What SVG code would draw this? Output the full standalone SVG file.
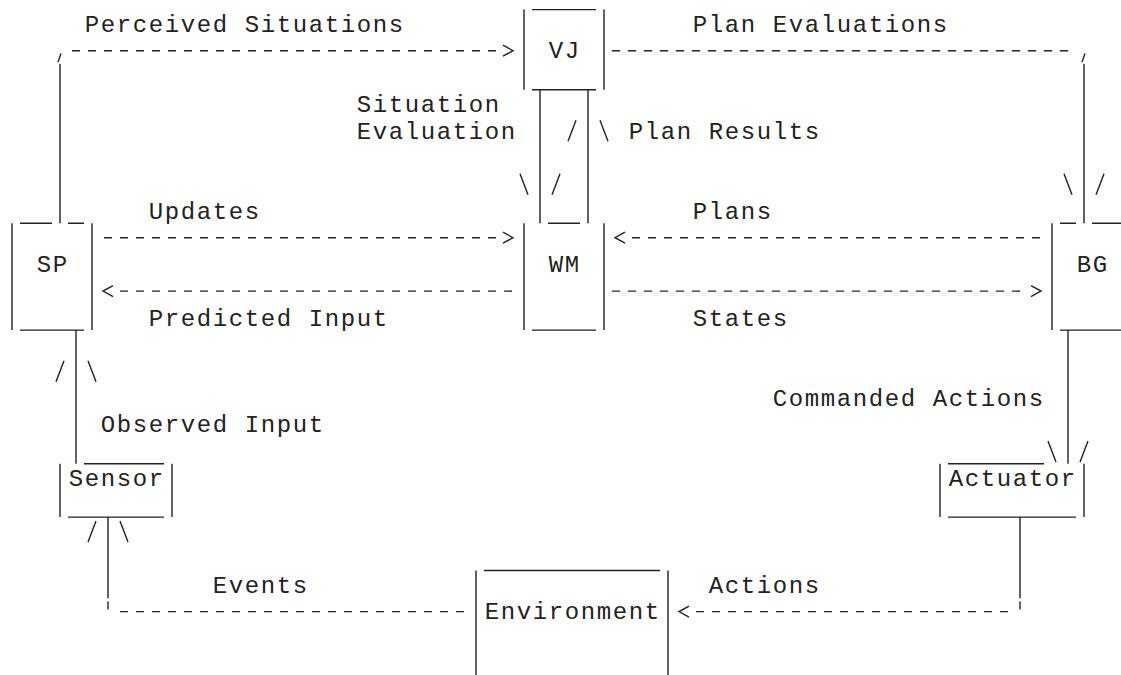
<svg xmlns="http://www.w3.org/2000/svg" width="1121" height="675" viewBox="0 0 1121 675">
<style>
.ln{stroke:#222;stroke-width:1.4;fill:none}
.ds{stroke:#222;stroke-width:1.4;fill:none;stroke-dasharray:8 8}
.t{font-family:"Liberation Mono","DejaVu Sans Mono",monospace;font-size:24px;letter-spacing:1.6px;fill:#222}
</style>
<rect width="1121" height="675" fill="#fff"/>
<g id="connectors">
  <g id="perceived-situations">
    <path class="ln" d="M61,53.5 L58,62 M60,64 V223.3"/>
    <line class="ds" x1="72" y1="50.7" x2="500" y2="50.7"/>
    <polyline class="ln" points="503,45.2 513,50.7 503,56.2"/>
    <text class="t" x="84.8" y="31.7">Perceived Situations</text>
  </g>
  <g id="plan-evaluations">
    <line class="ds" x1="612" y1="50.7" x2="1072" y2="50.7"/>
    <path class="ln" d="M1085,53.5 L1082,62 M1084,64 V223.3 M1064,173.8 L1072,194.8 M1096,194.8 L1104,173.8"/>
    <text class="t" x="692.8" y="31.7">Plan Evaluations</text>
  </g>
  <g id="situation-evaluation">
    <path class="ln" d="M540,89.7 V223.3 M520,173.8 L528,194.8 M552,194.8 L560,173.8"/>
    <text class="t" x="356.8" y="111.83">Situation</text>
    <text class="t" x="356.8" y="138.54">Evaluation</text>
  </g>
  <g id="plan-results">
    <path class="ln" d="M588,89.7 V223.3 M568,141.3 L576,120.3 M600,120.3 L608,141.3"/>
    <text class="t" x="628.8" y="138.54">Plan Results</text>
  </g>
  <g id="updates">
    <line class="ds" x1="104" y1="237.68" x2="500" y2="237.68"/>
    <polyline class="ln" points="503,232.2 513,237.68 503,243.2"/>
    <text class="t" x="148.8" y="218.67">Updates</text>
  </g>
  <g id="predicted-input">
    <polyline class="ln" points="113,285.6 103,291.1 113,296.6"/>
    <line class="ds" x1="120" y1="291.1" x2="516" y2="291.1"/>
    <text class="t" x="148.8" y="325.51">Predicted Input</text>
  </g>
  <g id="plans">
    <polyline class="ln" points="625,232.2 615,237.68 625,243.2"/>
    <line class="ds" x1="632" y1="237.68" x2="1040" y2="237.68"/>
    <text class="t" x="692.8" y="218.67">Plans</text>
  </g>
  <g id="states">
    <line class="ds" x1="612" y1="291.1" x2="1024" y2="291.1"/>
    <polyline class="ln" points="1031,285.6 1041,291.1 1031,296.6"/>
    <text class="t" x="692.8" y="325.51">States</text>
  </g>
  <g id="observed-input">
    <path class="ln" d="M76,330.1 V463.7 M56,381.7 L64,360.7 M88,360.7 L96,381.7"/>
    <text class="t" x="100.8" y="432.35">Observed Input</text>
  </g>
  <g id="commanded-actions">
    <path class="ln" d="M1068,330.1 V463.7 M1048,440.9 L1056,461.9 M1080,461.9 L1088,440.9"/>
    <text class="t" x="772.8" y="405.64">Commanded Actions</text>
  </g>
  <g id="events">
    <path class="ln" d="M108,517.1 V598.3 M108,601.6 V609.6 M88,542 L96,521 M120,521 L128,542"/>
    <line class="ds" x1="120" y1="611.62" x2="464" y2="611.62"/>
    <text class="t" x="212.8" y="592.61">Events</text>
  </g>
  <g id="actions">
    <path class="ln" d="M1020,517.1 V598.3 M1020,601.6 V609.6"/>
    <line class="ds" x1="696" y1="611.62" x2="1008" y2="611.62"/>
    <polyline class="ln" points="689,606.1 679,611.62 689,617.1"/>
    <text class="t" x="708.8" y="592.61">Actions</text>
  </g>
</g>
<g id="node-vj">
  <path class="ln" d="M524,9.6 V89.7 M604,9.6 V89.7 M532,9.6 H596 M532,89.7 H596"/>
  <text class="t" x="548.8" y="58.41">VJ</text>
</g>
<g id="node-wm">
  <path class="ln" d="M524,223.3 V330.1 M604,223.3 V330.1 M548,223.3 H580 M532,330.1 H596"/>
  <text class="t" x="548.8" y="272.09">WM</text>
</g>
<g id="node-sp">
  <path class="ln" d="M12,223.3 V330.1 M92,223.3 V330.1 M20,223.3 H52 M68,223.3 H84 M20,330.1 H84"/>
  <text class="t" x="36.8" y="272.09">SP</text>
</g>
<g id="node-bg">
  <path class="ln" d="M1052,223.3 V330.1 M1060,223.3 H1076 M1092,223.3 H1124 M1060,330.1 H1124"/>
  <text class="t" x="1076.8" y="272.09">BG</text>
</g>
<g id="node-sensor">
  <path class="ln" d="M60,463.7 V517.1 M172,463.7 V517.1 M84,463.7 H164 M68,517.1 H164"/>
  <text class="t" x="68.8" y="485.77">Sensor</text>
</g>
<g id="node-actuator">
  <path class="ln" d="M940,463.7 V517.1 M1084,463.7 V517.1 M948,463.7 H1044 M948,517.1 H1076"/>
  <text class="t" x="948.8" y="485.77">Actuator</text>
</g>
<g id="node-environment">
  <path class="ln" d="M476,570.5 V675 M668,570.5 V675 M484,570.5 H660"/>
  <text class="t" x="484.8" y="619.32">Environment</text>
</g>
</svg>
